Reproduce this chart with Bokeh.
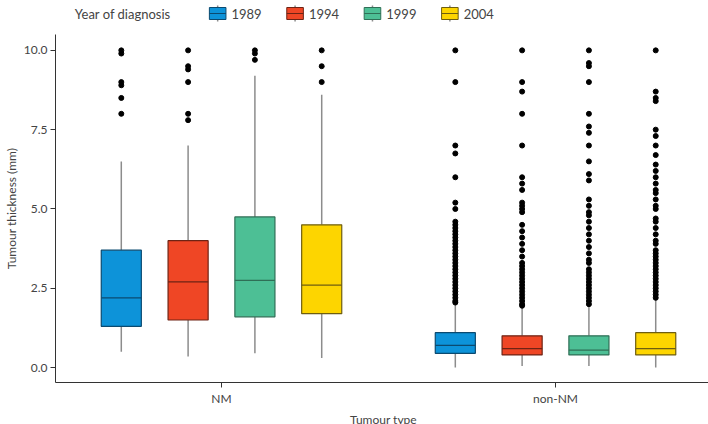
from bokeh.plotting import figure
from bokeh.layouts import column
from bokeh.models import Range1d, FixedTicker
from bokeh.core.properties import value
from bokeh.embed import file_html
from bokeh.resources import INLINE

years = ["1989", "1994", "1999", "2004"]
groups = ["NM", "non-NM"]
fills = ["#0d93d9", "#ef4625", "#4dbf95", "#fdd500"]
edges = ["#0b4a70", "#6e2314", "#2f6f56", "#6e5e10"]

# per group, per year: lower whisker, q1, median, q3, upper whisker
nm_stats = [
    [0.5, 1.3, 2.2, 3.7, 6.5],
    [0.35, 1.5, 2.7, 4.0, 7.0],
    [0.45, 1.6, 2.75, 4.75, 9.2],
    [0.3, 1.7, 2.6, 4.5, 8.6],
]
non_stats = [
    [0.0, 0.45, 0.7, 1.1, 2.0],
    [0.05, 0.4, 0.6, 1.0, 1.9],
    [0.05, 0.4, 0.55, 1.0, 1.95],
    [0.0, 0.4, 0.6, 1.1, 2.2],
]
nm_out = [
    [8.0, 8.5, 8.9, 9.0, 9.9, 10.0],
    [7.8, 8.0, 9.0, 9.4, 9.5, 10.0],
    [9.7, 9.9, 10.0],
    [9.0, 9.5, 10.0],
]
non_out = [
    [10.0, 9.0, 7.0, 6.75, 6.0, 5.2, 5.0, 4.6, 4.5, 4.4, 4.3, 4.2, 4.1, 4.0, 3.9, 3.8, 3.7, 3.6,
     3.5, 3.4, 3.3, 3.2, 3.1, 3.0, 2.9, 2.8, 2.7, 2.6, 2.5, 2.4, 2.3, 2.2, 2.1, 2.05],
    [10.0, 9.0, 8.7, 8.0, 7.0, 6.0, 5.8, 5.6, 5.2, 5.1, 5.0, 4.9, 4.5, 4.3, 4.1, 3.9, 3.7, 3.5,
     3.3, 3.2, 3.1, 3.0, 2.9, 2.8, 2.7, 2.6, 2.5, 2.4, 2.3, 2.2, 2.1, 2.0, 1.95],
    [10.0, 9.6, 9.5, 9.0, 8.0, 7.6, 7.4, 7.0, 6.5, 6.1, 5.9, 5.3, 5.1, 4.9, 4.8, 4.6, 4.4, 4.2,
     4.0, 3.8, 3.6, 3.4, 3.3, 3.1, 3.0, 2.9, 2.8, 2.7, 2.6, 2.5, 2.4, 2.3, 2.2, 2.1, 2.0],
    [10.0, 8.7, 8.5, 8.4, 7.5, 7.3, 7.0, 6.7, 6.4, 6.2, 6.0, 5.8, 5.6, 5.5, 5.3, 5.1, 5.0, 4.7,
     4.6, 4.4, 4.2, 4.0, 3.9, 3.7, 3.6, 3.5, 3.4, 3.3, 3.2, 3.1, 3.0, 2.9, 2.8, 2.7, 2.6, 2.5,
     2.4, 2.3, 2.2]
]
y_ticks = [0.0, 2.5, 5.0, 7.5, 10.0]

FONT = "Lato"
offsets = [-0.3, -0.1, 0.1, 0.3]
bw = 0.12

p = figure(frame_width=656, frame_height=348, min_border_left=40, min_border_right=0,
           min_border_top=0, min_border_bottom=36, output_backend="svg",
           toolbar_location=None, x_range=Range1d(0.503, 2.467), y_range=Range1d(-0.47, 10.5))
p.grid.visible = False
p.outline_line_color = None

for gi, (stats, outs) in enumerate([(nm_stats, nm_out), (non_stats, non_out)]):
    for yi in range(4):
        x = gi + 1 + offsets[yi]
        lw, q1, med, q3, uw = stats[yi]
        p.segment(x0=[x, x], y0=[lw, q3], x1=[x, x], y1=[q1, uw], line_color="#8c8c8c", line_width=1.5)
        p.vbar(x=[x], width=bw, bottom=[q1], top=[q3], fill_color=fills[yi], line_color=edges[yi], line_width=1.2)
        p.segment(x0=[x - bw / 2], y0=[med], x1=[x + bw / 2], y1=[med], line_color=edges[yi], line_width=1.2)
        p.scatter(x=[x] * len(outs[yi]), y=outs[yi], size=5, color="black")

p.xaxis.ticker = FixedTicker(ticks=[1, 2])
p.xaxis.major_label_overrides = {1: groups[0], 2: groups[1]}
p.xaxis.minor_tick_line_color = None
p.yaxis.minor_tick_line_color = None
p.yaxis.ticker = FixedTicker(ticks=y_ticks)
p.yaxis.major_label_overrides = {t: f"{t:.1f}" for t in y_ticks}
p.xaxis.axis_label = "Tumour type"
p.yaxis.axis_label = "Tumour thickness (mm)"
for ax in [p.xaxis, p.yaxis]:
    ax.axis_line_color = "#333333"
    ax.major_tick_line_color = "#333333"
    ax.major_tick_out = 5
    ax.major_tick_in = 0
    ax.major_label_standoff = 3
    ax.major_label_text_font = FONT
    ax.major_label_text_font_size = "12px"
    ax.major_label_text_color = "#444444"
    ax.axis_label_text_font = FONT
    ax.axis_label_text_font_size = "12px"
    ax.axis_label_text_font_style = "normal"
    ax.axis_label_text_color = "#444444"
p.xaxis.axis_label_standoff = 3
p.yaxis.axis_label_standoff = 2

lg = figure(width=700, height=34, output_backend="svg", toolbar_location=None,
            x_range=Range1d(0, 700), y_range=Range1d(0, 34), min_border=0)
lg.axis.visible = False
lg.grid.visible = False
lg.outline_line_color = None
lg.text(x=[21], y=[21], text=["Year of diagnosis"], text_font=value(FONT), text_font_size="13px",
        text_baseline="middle", text_color="#444444")
for i, yr in enumerate(years):
    cx = 176 + 84 * i
    lg.segment(x0=[cx], y0=[13], x1=[cx], y1=[29], line_color="#8c8c8c", line_width=1.5)
    lg.rect(x=[cx], y=[21], width=18, height=12, fill_color=fills[i], line_color=edges[i])
    lg.segment(x0=[cx - 9], y0=[21], x1=[cx + 9], y1=[21], line_color=edges[i])
    lg.text(x=[cx + 15], y=[21], text=[yr], text_font=value(FONT), text_font_size="13px",
            text_baseline="middle", text_color="#444444")

open("out.html", "w").write(file_html(column(lg, p, spacing=0), INLINE))
